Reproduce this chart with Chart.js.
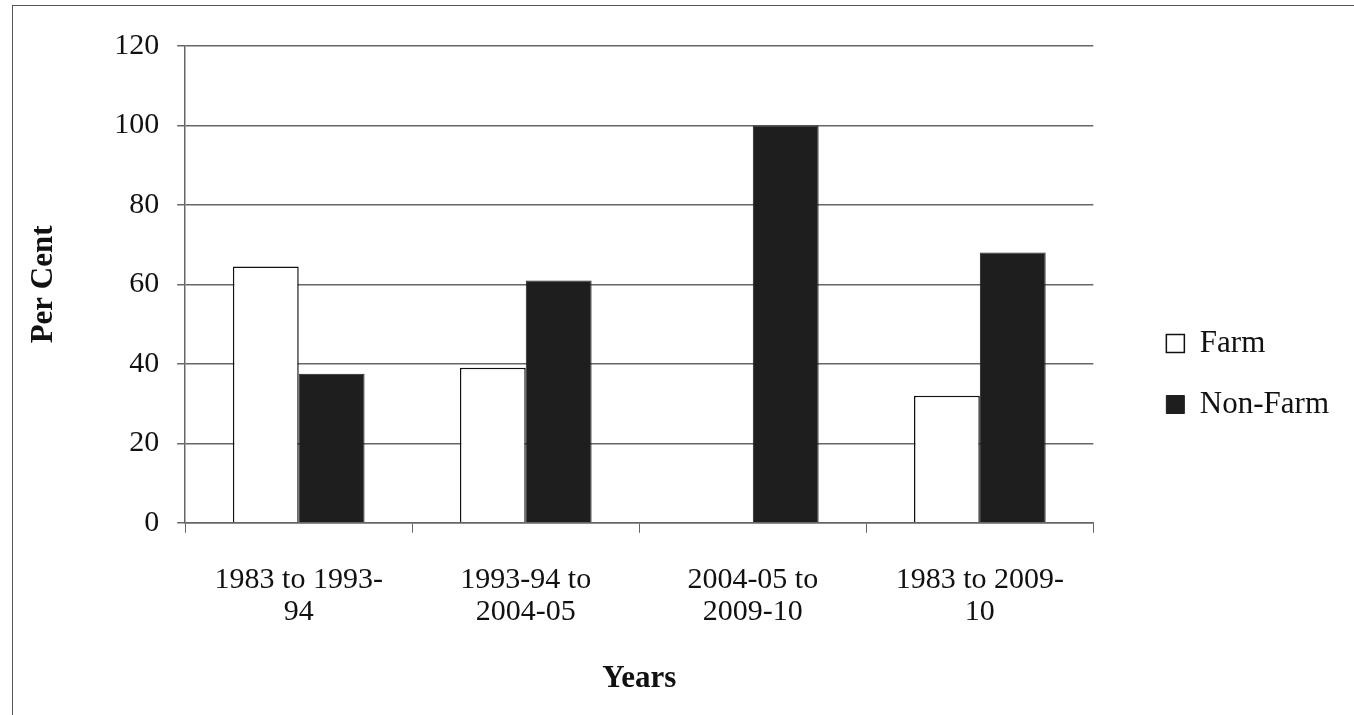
<!DOCTYPE html>
<html><head><meta charset="utf-8">
<script src="https://cdn.jsdelivr.net/npm/chart.js@4/dist/chart.umd.min.js"></script>
<style>
html,body{margin:0;padding:0;background:#fff;}
#wrap{position:absolute;left:12px;top:5px;width:1342px;height:710px;border-left:1.5px solid #555;border-top:1.5px solid #555;box-sizing:border-box;}
</style></head>
<body>
<div id="wrap"><canvas id="c" width="1340" height="708"></canvas></div>
<script>
const categories = [['1983 to 1993-', '94'], ['1993-94 to', '2004-05'], ['2004-05 to', '2009-10'], ['1983 to 2009-', '10']];
const farm = [64.5, 39, null, 32];
const nonFarm = [37.5, 61, 100, 68];
const font = 'Liberation Serif';

new Chart(document.getElementById('c'), {
    type: 'bar',
    data: {
        labels: categories,
        datasets: [
            { label: 'Farm', data: farm, backgroundColor: '#fff', borderColor: '#111', borderWidth: 1.5 },
            { label: 'Non-Farm', data: nonFarm, backgroundColor: '#1e1e1e', borderColor: '#1e1e1e', borderWidth: 1 }
        ]
    },
    options: {
        responsive: false,
        animation: false,
        layout: { padding: { top: 40, left: 8, right: 2, bottom: 12 } },
        datasets: { bar: { categoryPercentage: 0.58, barPercentage: 1 } },
        plugins: {
            legend: {
                position: 'right',
                align: 'center',
                labels: { font: { family: font, size: 31 }, color: '#111', boxWidth: 18, boxHeight: 18, padding: 30 }
            },
            tooltip: { enabled: false }
        },
        scales: {
            x: {
                afterFit(scale) { scale.height -= 17; },
                grid: { offset: true, drawOnChartArea: false, color: '#666', tickLength: 10 },
                border: { color: '#666', width: 1.5 },
                ticks: { font: { family: font, size: 30, lineHeight: 1.05 }, color: '#111', padding: 32, maxRotation: 0 },
                title: { display: true, text: 'Years', font: { family: font, size: 31, weight: 'bold' }, color: '#111', padding: { top: 18 } }
            },
            y: {
                min: 0, max: 120,
                ticks: { stepSize: 20, font: { family: font, size: 30 }, color: '#111', padding: 18 },
                grid: { color: '#666', lineWidth: 1.5, tickLength: 8 },
                border: { color: '#666', width: 1.5 },
                title: { display: true, text: 'Per Cent', font: { family: font, size: 31, weight: 'bold' }, color: '#111', padding: { bottom: 34 } }
            }
        }
    },
    plugins: [{
        id: 'legendGap',
        beforeInit(chart) {
            const fit = chart.legend.fit;
            chart.legend.fit = function () { fit.bind(chart.legend)(); this.width += 55; };
        },
        afterLayout(chart) {
            chart.legend.left += 43;
            chart.legend.adjustHitBoxes();
        }
    }]
});
</script>
</body></html>
